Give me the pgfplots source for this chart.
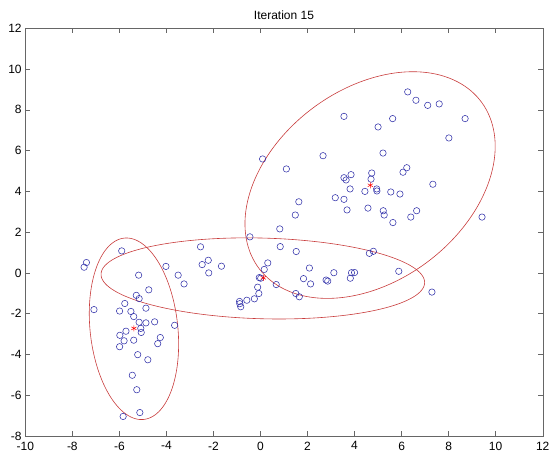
\documentclass[border=0pt]{standalone}
\usepackage{pgfplots}
\pgfplotsset{compat=1.18}
\usepackage{fontspec}
\setmainfont{Liberation Sans}
\definecolor{ptblue}{RGB}{50,50,170}
\definecolor{ellred}{RGB}{200,60,60}
\begin{document}
\begin{tikzpicture}
\begin{axis}[
  scale only axis, width=517.4pt, height=407.7pt,
  xmin=-10, xmax=12, ymin=-8, ymax=12,
  xtick={-10,-8,...,12}, ytick={-8,-6,...,12},
  tick align=inside, major tick length=5pt,
  axis line style={draw=black!60}, every tick/.style={black!60},
  ticklabel style={font=\fontsize{12}{14}\selectfont, inner sep=0.5pt},
  xticklabel style={yshift=-5pt},
  yticklabel style={xshift=-3pt},
  /pgf/number format/assume math mode=true,
  title={Iteration 15},
  title style={font=\fontsize{12}{14}\selectfont, yshift=-1pt},
]
% points
\addplot[only marks, mark=o, mark size=3.2pt, ptblue, mark options={line width=0.55pt}] coordinates {
(-7.40,0.51)(-7.50,0.28)(-7.08,-1.80)(-5.90,1.08)
(-5.28,-1.10)(-5.16,-1.26)(-5.77,-1.50)(-5.99,-1.87)(-5.51,-1.89)(-5.39,-2.14)(-4.87,-1.73)(-5.16,-2.42)(-4.87,-2.45)(-4.50,-2.40)(-3.65,-2.57)(-5.09,-2.72)(-5.07,-2.92)(-5.72,-2.86)(-5.98,-3.06)(-5.80,-3.33)(-5.39,-3.30)(-5.99,-3.62)(-4.26,-3.17)(-4.37,-3.47)(-5.22,-4.01)(-4.79,-4.26)(-5.45,-5.02)(-5.26,-5.73)(-5.13,-6.85)(-5.84,-7.04)
(-5.18,-0.11)(-4.75,-0.83)(-4.02,0.32)(-3.50,-0.11)(-3.25,-0.54)(-2.55,1.28)(-2.48,0.41)(-2.22,0.62)(-2.20,0.0)(-1.66,0.33)(-0.45,1.77)(0.31,0.49)(0.16,0.17)(-0.05,-0.23)(0.01,-0.26)(-0.12,-0.70)(-0.07,-1.01)(-0.26,-1.27)(-0.58,-1.34)(-0.89,-1.40)(-0.88,-1.51)(-0.84,-1.66)(0.67,-0.57)(0.84,1.29)(1.52,1.05)(2.08,0.24)(1.83,-0.28)(2.13,-0.54)(1.50,-1.01)(1.65,-1.17)(2.79,-0.35)(2.86,-0.40)(3.12,0.01)(3.87,0.01)(4.00,0.02)(3.82,-0.26)(4.63,0.96)(4.80,1.06)(5.88,0.08)(7.29,-0.94)
(0.09,5.59)(0.82,2.16)(1.10,5.10)(1.48,2.84)(1.63,3.49)(2.66,5.75)(3.18,3.69)(3.55,3.61)(3.55,7.68)(3.55,4.67)(3.64,4.56)(3.68,3.09)(3.81,4.12)(3.85,4.82)(4.44,4.00)(4.57,3.18)(4.70,4.60)(4.73,4.90)(4.94,4.12)(4.95,4.02)(5.00,7.16)(5.21,5.88)(5.22,3.05)(5.26,2.84)(5.54,3.97)(5.62,7.57)(5.63,2.47)(5.93,3.87)(6.06,4.94)(6.22,5.16)(6.26,8.88)(6.39,2.74)(6.61,8.47)(6.64,3.05)(7.11,8.22)(7.33,4.35)(7.60,8.29)(8.01,6.62)(8.70,7.57)(9.42,2.74)
};
% ellipses (center, x semi-extent, conjugate terms)
\addplot[ellred, line width=0.6pt, domain=0:360, samples=150, smooth] ({-5.38+1.90*cos(x)}, {-2.74-0.75*cos(x)+4.39*sin(x)});
\addplot[ellred, line width=0.6pt, domain=0:360, samples=150, smooth] ({0.10+6.88*cos(x)}, {-0.27-0.20*cos(x)+1.98*sin(x)});
\addplot[ellred, line width=0.6pt, domain=0:360, samples=150, smooth] ({4.66+5.32*cos(x)}, {4.31+1.90*cos(x)+5.225*sin(x)});
% centers
\addplot[only marks, mark=asterisk, mark size=3pt, red, mark options={line width=0.5pt}] coordinates {(-5.38,-2.72)(0.12,-0.24)(4.67,4.30)};
\end{axis}
\path ([xshift=-25.3pt,yshift=-19pt]current axis.south west) rectangle ([xshift=8.3pt,yshift=28.3pt]current axis.north east);
\end{tikzpicture}
\end{document}
